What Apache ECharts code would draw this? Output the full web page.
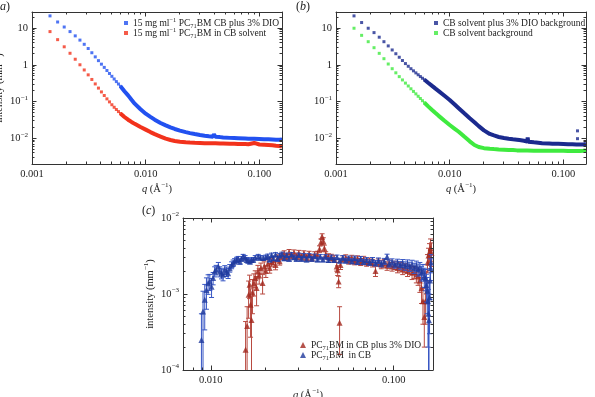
<!DOCTYPE html>
<html><head><meta charset="utf-8">
<script src="https://cdn.jsdelivr.net/npm/echarts@6/dist/echarts.min.js"></script>
<style>html,body{margin:0;padding:0;background:#fff}#c{width:595px;height:397px}</style>
</head><body><div id="c"></div>
<script>
// ---------- data: panels (a) and (b) ----------
const qSparse = [0.00144, 0.00168, 0.00192, 0.00216, 0.0024, 0.00264, 0.00288, 0.00312, 0.00336, 0.0036, 0.00384, 0.00408, 0.00432, 0.00456, 0.0048, 0.00504, 0.00528, 0.00552, 0.00576, 0.006];
const qDense = [0.0065, 0.007, 0.0075, 0.008, 0.009, 0.01, 0.011, 0.012, 0.0135, 0.015, 0.0165, 0.018, 0.02, 0.0225, 0.0245, 0.027, 0.03, 0.033, 0.036, 0.039, 0.0398, 0.0403, 0.041, 0.045, 0.048, 0.0485, 0.049, 0.055, 0.06, 0.065, 0.075, 0.08, 0.09, 0.092, 0.1, 0.11, 0.12, 0.13, 0.135, 0.14, 0.15, 0.158];

const aBlueSparse = [21.7, 14.8, 10.8, 8.1, 6.2, 4.75, 3.65, 2.8, 2.15, 1.66, 1.31, 1.05, 0.857, 0.705, 0.585, 0.49, 0.414, 0.352, 0.302, 0.261];
const aBlueDense = [0.192, 0.148, 0.112, 0.088, 0.062, 0.047, 0.0385, 0.0322, 0.0262, 0.0225, 0.0199, 0.018, 0.0163, 0.0148, 0.0139, 0.0131, 0.0123, 0.0118, 0.0114, 0.0111, 0.0128, 0.0122, 0.011, 0.0108, 0.0106, 0.0106, 0.0105, 0.0103, 0.0102, 0.0101, 0.0099, 0.0098, 0.0097, 0.0097, 0.0096, 0.0095, 0.0094, 0.0093, 0.0092, 0.0092, 0.0091, 0.0093];
const aRedSparse = [8.1, 4.89, 3.12, 2.08, 1.43, 1.01, 0.73, 0.537, 0.402, 0.304, 0.234, 0.184, 0.147, 0.119, 0.0985, 0.0824, 0.0703, 0.061, 0.0536, 0.0476];
const aRedDense = [0.0382, 0.0322, 0.028, 0.0248, 0.0203, 0.0173, 0.0148, 0.013, 0.0112, 0.0098, 0.009, 0.0085, 0.0081, 0.0078, 0.0077, 0.0076, 0.0075, 0.0074, 0.0074, 0.0073, 0.0073, 0.0073, 0.0073, 0.0072, 0.0072, 0.0072, 0.0072, 0.0071, 0.0071, 0.007, 0.007, 0.0069, 0.0075, 0.0069, 0.0068, 0.0067, 0.0066, 0.0065, 0.0064, 0.0063, 0.0062, 0.006];

const bNavySparse = [21.7, 14.3, 10.0, 7.6, 5.7, 4.3, 3.3, 2.56, 2.02, 1.62, 1.32, 1.09, 0.92, 0.79, 0.69, 0.607, 0.54, 0.482, 0.434, 0.394];
const bNavyDense = [0.322, 0.268, 0.226, 0.194, 0.145, 0.111, 0.085, 0.066, 0.0473, 0.0353, 0.0275, 0.0215, 0.0165, 0.0132, 0.012, 0.0109, 0.0102, 0.0097, 0.0094, 0.0092, 0.0091, 0.0091, 0.009, 0.0086, 0.0082, 0.0105, 0.0081, 0.0078, 0.0076, 0.0074, 0.0072, 0.0071, 0.0071, 0.007, 0.007, 0.0069, 0.0069, 0.0068, 0.0068, 0.0068, 0.0068, 0.007];
const bNavyOutQ = [0.133, 0.133];
const bNavyOutI = [0.016, 0.0098];
const bGreenSparse = [10, 6.4, 4.3, 2.95, 2.07, 1.48, 1.06, 0.79, 0.61, 0.48, 0.39, 0.32, 0.267, 0.224, 0.19, 0.163, 0.14, 0.122, 0.106, 0.093];
const bGreenDense = [0.0733, 0.059, 0.0488, 0.041, 0.0301, 0.0231, 0.0185, 0.0151, 0.011, 0.0083, 0.0066, 0.0058, 0.0054, 0.0052, 0.0051, 0.005, 0.0049, 0.0048, 0.0048, 0.0047, 0.0047, 0.0047, 0.0047, 0.0047, 0.0047, 0.0047, 0.0047, 0.0046, 0.0046, 0.0046, 0.0046, 0.0046, 0.0046, 0.0046, 0.0046, 0.0045, 0.0045, 0.0045, 0.0045, 0.0045, 0.0046, 0.0047];

// ---------- data: panel (c) ----------
const cBlueQ = [0.00889, 0.00907, 0.00927, 0.00947, 0.00967, 0.00988, 0.0101, 0.0103, 0.0105, 0.0107, 0.011, 0.0112, 0.01145, 0.01167, 0.01193, 0.0122, 0.01244, 0.0127, 0.013, 0.01325, 0.0135, 0.01383, 0.0141, 0.01443, 0.0147, 0.01503, 0.0154, 0.0157, 0.016, 0.01637, 0.0167, 0.01706, 0.0175, 0.01817, 0.0187, 0.01936, 0.02,
  0.0205, 0.021, 0.0215, 0.022, 0.0226, 0.0232, 0.0238, 0.0245, 0.0252, 0.026, 0.0268, 0.0276, 0.0285, 0.0294, 0.0303, 0.0313, 0.0323, 0.0334, 0.0345, 0.0357, 0.037, 0.0383, 0.0397, 0.041, 0.0425, 0.044, 0.0456, 0.0472, 0.049, 0.0508, 0.0527, 0.0547, 0.0568, 0.059, 0.0612, 0.0635, 0.066, 0.0685, 0.0711, 0.0738, 0.0766, 0.0795, 0.0825, 0.0856, 0.0888, 0.092, 0.0945, 0.098, 0.1015, 0.105, 0.1085, 0.112, 0.1155, 0.119, 0.1225, 0.126, 0.1295, 0.133, 0.136, 0.139, 0.142, 0.1445, 0.147, 0.149, 0.151, 0.1525, 0.154, 0.155, 0.156, 0.157, 0.158, 0.159, 0.16];
const cBlueI = [2.49e-4, 5.87e-4, 8.37e-4, 1.13e-3, 1.39e-3, 1.46e-3, 1.25e-3, 1.62e-3, 1.98e-3, 2.08e-3, 2.3e-3, 1.98e-3, 1.88e-3, 1.79e-3, 2.08e-3, 1.98e-3, 1.88e-3, 2.19e-3, 2.4e-3, 2.55e-3, 2.7e-3, 2.82e-3, 2.9e-3, 2.68e-3, 2.9e-3, 3.12e-3, 3.0e-3, 2.82e-3, 2.75e-3, 2.68e-3, 2.8e-3, 2.82e-3, 3.0e-3, 3.12e-3, 3.0e-3, 2.97e-3, 3.05e-3,
  3.15e-3, 2.85e-3, 3.25e-3, 2.95e-3, 3.3e-3, 2.9e-3, 3.2e-3, 3.35e-3, 2.95e-3, 3.25e-3, 2.9e-3, 3.3e-3, 3.05e-3, 2.9e-3, 3.25e-3, 2.9e-3, 3.2e-3, 2.85e-3, 3.2e-3, 2.9e-3, 3.15e-3, 2.85e-3, 3.1e-3, 2.85e-3, 3.1e-3, 2.8e-3, 3.05e-3, 2.8e-3, 3.05e-3, 2.75e-3, 3.0e-3, 2.75e-3, 2.95e-3, 2.7e-3, 2.95e-3, 2.65e-3, 2.9e-3, 2.65e-3, 2.8e-3, 2.6e-3, 2.8e-3, 2.55e-3, 2.75e-3, 2.5e-3, 2.7e-3, 3.1e-3, 2.5e-3, 2.65e-3, 2.45e-3, 2.6e-3, 2.4e-3, 2.55e-3, 2.35e-3, 2.5e-3, 2.3e-3, 2.45e-3, 2.2e-3, 2.35e-3, 2.1e-3, 2.2e-3, 1.9e-3, 2.0e-3, 1.7e-3, 1.6e-3, 1.3e-3, 1.1e-3, 0.8e-3, 0.55e-3, 0.45e-3, 0.9e-3, 1.5e-3, 2.2e-3, 2.6e-3];
const cBlueE = [3.0e-4, 5.0e-4, 5.0e-4, 5.0e-4, 4.0e-4, 3.5e-4, 3.5e-4, 3.0e-4, 3.0e-4, 3.0e-4, 3.0e-4, 3.0e-4, 3.0e-4, 3.0e-4, 2.8e-4, 2.8e-4, 2.8e-4, 2.5e-4, 2.5e-4, 2.5e-4, 2.2e-4, 2.2e-4, 2.2e-4, 2.2e-4, 2.0e-4, 2.0e-4, 2.0e-4, 2.0e-4, 2.0e-4, 2.0e-4, 2.0e-4, 2.0e-4, 2.0e-4, 2.0e-4, 2.0e-4, 2.0e-4, 2.0e-4,
  2.0e-4, 2.0e-4, 2.0e-4, 2.0e-4, 2.0e-4, 2.0e-4, 2.0e-4, 2.0e-4, 2.0e-4, 2.0e-4, 2.0e-4, 2.0e-4, 2.0e-4, 2.0e-4, 2.0e-4, 2.0e-4, 2.0e-4, 2.0e-4, 2.0e-4, 2.0e-4, 2.0e-4, 2.0e-4, 2.0e-4, 2.0e-4, 2.0e-4, 2.0e-4, 2.0e-4, 2.0e-4, 2.0e-4, 2.0e-4, 2.0e-4, 2.0e-4, 2.0e-4, 2.0e-4, 2.0e-4, 2.1e-4, 2.1e-4, 2.1e-4, 2.1e-4, 2.2e-4, 2.2e-4, 2.2e-4, 2.3e-4, 2.3e-4, 2.4e-4, 2.4e-4, 2.4e-4, 2.5e-4, 2.6e-4, 2.7e-4, 2.8e-4, 2.9e-4, 3.0e-4, 3.1e-4, 3.2e-4, 3.3e-4, 3.4e-4, 3.6e-4, 3.8e-4, 4.0e-4, 4.2e-4, 4.5e-4, 4.8e-4, 5.0e-4, 5.2e-4, 5.5e-4, 6.0e-4, 6.0e-4, 5.5e-4, 6.0e-4, 6.5e-4, 7.0e-4, 7.0e-4];

const cRedQ = [0.0155, 0.0158, 0.0161, 0.0163, 0.0165, 0.0167, 0.0169, 0.0172, 0.0175, 0.0178, 0.0181, 0.0184, 0.0188, 0.0192, 0.0196, 0.02,
  0.0205, 0.021, 0.0215, 0.022, 0.0226, 0.0232, 0.0238, 0.0245, 0.0252, 0.026, 0.0268, 0.0276, 0.0285, 0.0294, 0.0303, 0.0313, 0.0323, 0.0334, 0.0345, 0.0357, 0.037, 0.0383,
  0.0393, 0.04, 0.0406, 0.0412, 0.0418, 0.0425, 0.044, 0.0456, 0.0472, 0.0488, 0.0494, 0.05, 0.0506, 0.0512, 0.0527,
  0.0547, 0.0568, 0.059, 0.0612, 0.0635, 0.066, 0.0685, 0.0711, 0.0738, 0.0766, 0.0795, 0.0825, 0.0856, 0.0888, 0.092, 0.0945, 0.098, 0.1015, 0.105, 0.1085, 0.112, 0.1155, 0.119, 0.1225, 0.126, 0.1295, 0.133, 0.136, 0.139, 0.142, 0.1445, 0.147, 0.149, 0.151, 0.153, 0.155, 0.157, 0.159, 0.161];
const cRedI = [1.84e-4, 3.8e-4, 9.8e-4, 1.32e-3, 7.2e-4, 4.56e-4, 1.05e-3, 1.39e-3, 1.62e-3, 1.2e-3, 1.98e-3, 1.75e-3, 2.2e-3, 1.4e-3, 2.3e-3, 2.0e-3,
  2.5e-3, 2.2e-3, 2.6e-3, 2.75e-3, 2.4e-3, 2.95e-3, 2.7e-3, 3.15e-3, 3.4e-3, 3.1e-3, 3.55e-3, 3.2e-3, 3.5e-3, 3.15e-3, 3.45e-3, 3.1e-3, 3.4e-3, 3.05e-3, 3.35e-3, 3.0e-3, 3.3e-3, 3.35e-3,
  3.9e-3, 4.8e-3, 5.7e-3, 5.0e-3, 4.0e-3, 3.3e-3, 3.1e-3, 3.05e-3, 2.95e-3, 2.3e-3, 2.05e-3, 1.46e-3, 4.2e-4, 2.4e-3, 2.9e-3,
  3.0e-3, 2.75e-3, 2.95e-3, 2.7e-3, 2.9e-3, 2.65e-3, 2.85e-3, 2.6e-3, 2.7e-3, 2.55e-3, 2.0e-3, 2.6e-3, 2.45e-3, 2.55e-3, 2.35e-3, 2.5e-3, 2.3e-3, 2.4e-3, 2.2e-3, 2.3e-3, 2.1e-3, 2.2e-3, 2.0e-3, 2.1e-3, 1.9e-3, 1.95e-3, 1.8e-3, 1.7e-3, 1.5e-3, 1.2e-3, 0.8e-3, 0.5e-3, 0.8e-3, 1.5e-3, 2.6e-3, 3.2e-3, 3.6e-3, 4.0e-3, 3.5e-3];
const cRedE = [2.5e-4, 3.0e-4, 5.0e-4, 4.5e-4, 4.5e-4, 4.8e-4, 5.0e-4, 4.5e-4, 4.0e-4, 5.0e-4, 4.0e-4, 4.0e-4, 3.5e-4, 4.0e-4, 3.5e-4, 3.5e-4,
  3.2e-4, 3.2e-4, 3.2e-4, 3.2e-4, 3.2e-4, 3.2e-4, 3.0e-4, 3.0e-4, 3.0e-4, 3.0e-4, 3.0e-4, 3.0e-4, 3.0e-4, 3.0e-4, 3.0e-4, 3.0e-4, 3.0e-4, 3.0e-4, 3.0e-4, 3.0e-4, 3.0e-4, 3.0e-4,
  4.0e-4, 5.0e-4, 5.0e-4, 5.0e-4, 4.0e-4, 3.0e-4, 2.8e-4, 2.8e-4, 2.8e-4, 3.0e-4, 3.0e-4, 2.5e-4, 2.6e-4, 3.0e-4, 2.8e-4,
  2.8e-4, 2.8e-4, 2.8e-4, 2.8e-4, 2.8e-4, 2.8e-4, 2.8e-4, 2.8e-4, 2.8e-4, 2.8e-4, 3.0e-4, 3.0e-4, 3.0e-4, 3.0e-4, 3.0e-4, 3.0e-4, 3.0e-4, 3.0e-4, 3.0e-4, 3.0e-4, 3.0e-4, 3.0e-4, 3.0e-4, 3.0e-4, 3.5e-4, 3.5e-4, 4.0e-4, 4.0e-4, 4.5e-4, 4.5e-4, 4.0e-4, 3.0e-4, 4.0e-4, 5.0e-4, 7.0e-4, 8.0e-4, 1.0e-3, 1.3e-3, 1.2e-3];

// ---------- tick labels ----------
const abXTickVals = [0.001, 0.01, 0.1];
const abXTickText = ['0.001', '0.010', '0.100'];
const abYTickVals = [0.01, 0.1, 1, 10];
const abYTickText = ['10{s|\u22122}', '10{s|\u22121}', '1', '10'];
const cXTickVals = [0.01, 0.1];
const cXTickText = ['0.010', '0.100'];
const cYTickVals = [1e-4, 1e-3, 1e-2];
const cYTickText = ['10{s|\u22124}', '10{s|\u22123}', '10{s|\u22122}'];
const abMinorX = [0.002, 0.003, 0.004, 0.005, 0.006, 0.007, 0.008, 0.009, 0.02, 0.03, 0.04, 0.05, 0.06, 0.07, 0.08, 0.09];
const abMinorY = [0.003, 0.004, 0.005, 0.006, 0.007, 0.008, 0.009, 0.02, 0.03, 0.04, 0.05, 0.06, 0.07, 0.08, 0.09, 0.2, 0.3, 0.4, 0.5, 0.6, 0.7, 0.8, 0.9, 2, 3, 4, 5, 6, 7, 8, 9, 20];
const cMinorX = [0.008, 0.009, 0.02, 0.03, 0.04, 0.05, 0.06, 0.07, 0.08, 0.09];
const cMinorY = [2e-4, 3e-4, 4e-4, 5e-4, 6e-4, 7e-4, 8e-4, 9e-4, 2e-3, 3e-3, 4e-3, 5e-3, 6e-3, 7e-3, 8e-3, 9e-3];

const legendNames = {
  a1: '15 mg ml{s|\u22121} PC{d|71}BM CB plus 3% DIO',
  a2: '15 mg ml{s|\u22121} PC{d|71}BM in CB solvent',
  b1: 'CB solvent plus 3% DIO background',
  b2: 'CB solvent background',
  c1: 'PC{d|71}BM in CB plus 3% DIO',
  c2: 'PC{d|71}BM  in CB'
};

// ---------- helpers ----------
const FONT = 'Liberation Serif';
const TXT = '#222';
const AX = '#333';
const pairs = (xs, ys) => xs.map((x, i) => [x, ys[i]]);
const richBase = (fs) => ({
  s: { fontSize: fs * 0.68, verticalAlign: 'top', fontFamily: FONT, color: TXT },
  d: { fontSize: fs * 0.68, verticalAlign: 'bottom', fontFamily: FONT, color: TXT },
  i: { fontSize: fs, fontStyle: 'italic', fontFamily: FONT, color: TXT }
});
function fmt(v, vals, texts) {
  for (let i = 0; i < vals.length; i++) {
    if (Math.abs(Math.log10(v / vals[i])) < 1e-6) return texts[i];
  }
  return '';
}
function mkAxes(gi, range, vals, texts, isX, name, nameGap, showLabels) {
  const base = {
    type: 'log', logBase: 10, gridIndex: gi, min: range[0], max: range[1],
    axisLine: { show: true, onZero: false, lineStyle: { color: AX, width: 1 } },
    axisTick: { show: true, inside: true, length: 4.5, interval: 0, lineStyle: { color: AX, width: 1 } },
    splitLine: { show: false }, minorTick: { show: false }, minorSplitLine: { show: false }
  };
  const main = Object.assign({}, base, {
    position: isX ? 'bottom' : 'left',
    axisLabel: {
      show: showLabels, interval: 0, margin: isX ? 3 : 4, fontFamily: FONT, fontSize: 10.5, color: TXT,
      lineHeight: 14, rich: richBase(10.5), formatter: v => fmt(v, vals, texts)
    }
  });
  if (name) {
    Object.assign(main, {
      name: name, nameLocation: 'middle', nameGap: nameGap,
      nameTextStyle: { fontFamily: FONT, fontSize: 10.5, color: TXT, lineHeight: 14, rich: richBase(10.5) }
    });
  }
  const mirror = Object.assign({}, base, { position: isX ? 'top' : 'right', axisLabel: { show: false } });
  return [main, mirror];
}
function minorXRender(len) {
  return (params, api) => {
    const cs = params.coordSys;
    const x = Math.round(api.coord([api.value(0), api.value(1)])[0] - 0.5) + 0.5;
    const b = cs.y + cs.height, t = cs.y;
    const st = { stroke: AX, lineWidth: 1 };
    return { type: 'group', children: [
      { type: 'line', shape: { x1: x, y1: b, x2: x, y2: b - len }, style: st },
      { type: 'line', shape: { x1: x, y1: t, x2: x, y2: t + len }, style: st }
    ] };
  };
}
function minorYRender(len) {
  return (params, api) => {
    const cs = params.coordSys;
    const y = Math.round(api.coord([api.value(0), api.value(1)])[1] - 0.5) + 0.5;
    const l = cs.x, r = cs.x + cs.width;
    const st = { stroke: AX, lineWidth: 1 };
    return { type: 'group', children: [
      { type: 'line', shape: { x1: l, y1: y, x2: l + len, y2: y }, style: st },
      { type: 'line', shape: { x1: r, y1: y, x2: r - len, y2: y }, style: st }
    ] };
  };
}
function errRender(color) {
  return (params, api) => {
    const q = api.value(0), v = api.value(1), e = api.value(2);
    const hasLo = v - e > 0;
    const pHi = api.coord([q, v + e]);
    const pLo = api.coord([q, hasLo ? v - e : 1e-7]);
    const x = pHi[0], w = 2.5;
    const st = { stroke: color, lineWidth: 1 };
    const ch = [
      { type: 'line', shape: { x1: x, y1: pLo[1], x2: x, y2: pHi[1] }, style: st },
      { type: 'line', shape: { x1: x - w, y1: pHi[1], x2: x + w, y2: pHi[1] }, style: st }
    ];
    if (hasLo) ch.push({ type: 'line', shape: { x1: x - w, y1: pLo[1], x2: x + w, y2: pLo[1] }, style: st });
    return { type: 'group', children: ch };
  };
}

const abX = [0.001, 0.158], abY = [0.002, 27.7];
const cX = [0.00705, 0.164], cY = [1e-4, 1e-2];

const xAxis = [].concat(
  mkAxes(0, abX, abXTickVals, abXTickText, true, '{i|q} (\u00c5{s|\u22121})', 15, true),
  mkAxes(1, abX, abXTickVals, abXTickText, true, '{i|q} (\u00c5{s|\u22121})', 15, true),
  mkAxes(2, cX, cXTickVals, cXTickText, true, '{i|q} (\u00c5{s|\u22121})', 15, true)
);
const yAxis = [].concat(
  mkAxes(0, abY, abYTickVals, abYTickText, false, 'intensity (mm{s|\u22121})', 18, true),
  mkAxes(1, abY, abYTickVals, abYTickText, false, null, 0, true),
  mkAxes(2, cY, cYTickVals, cYTickText, false, 'intensity (mm{s|\u22121})', 17, true)
);

const COL = { a1: '#2251f0', a2: '#f2321c', b1: '#1b2a8e', b2: '#3fea3f', c1: '#a3281e', c2: '#1f3a9c', c1e: '#b84a40', c2e: '#3756c4' };

function sparseDense(name, xi, qs, ys, qd, yd, color) {
  return [
    { name: name, type: 'scatter', xAxisIndex: xi, yAxisIndex: xi, data: pairs(qs, ys),
      symbol: 'rect', symbolSize: 3, itemStyle: { color: color }, z: 3 },
    { name: name + 'd', type: 'line', xAxisIndex: xi, yAxisIndex: xi,
      data: [[qs[qs.length - 1], ys[ys.length - 1]]].concat(pairs(qd, yd)),
      showSymbol: false, symbol: 'none', lineStyle: { color: color, width: 4 }, itemStyle: { color: color }, z: 3 }
  ];
}
function minorSeries(xi, mx, my, refX, refY) {
  return [
    { type: 'custom', name: 'mx' + xi, xAxisIndex: xi, yAxisIndex: xi, silent: true, clip: false, z: 5,
      data: mx.map(v => [v, refY]), renderItem: minorXRender(2.5) },
    { type: 'custom', name: 'my' + xi, xAxisIndex: xi, yAxisIndex: xi, silent: true, clip: false, z: 5,
      data: my.map(v => [refX, v]), renderItem: minorYRender(2.5) }
  ];
}

const series = [].concat(
  sparseDense('a1', 0, qSparse, aBlueSparse, qDense, aBlueDense, COL.a1),
  sparseDense('a2', 0, qSparse, aRedSparse, qDense, aRedDense, COL.a2),
  sparseDense('b1', 2, qSparse, bNavySparse, qDense, bNavyDense, COL.b1),
  sparseDense('b2', 2, qSparse, bGreenSparse, qDense, bGreenDense, COL.b2),
  [{ name: 'b1o', type: 'scatter', xAxisIndex: 2, yAxisIndex: 2, data: pairs(bNavyOutQ, bNavyOutI),
     symbol: 'rect', symbolSize: 3, itemStyle: { color: COL.b1 } }],
  [
    { name: 'c1e', type: 'custom', xAxisIndex: 4, yAxisIndex: 4, clip: true, silent: true,
      data: cRedQ.map((q, i) => [q, cRedI[i], cRedE[i]]), encode: { x: 0, y: 1 }, renderItem: errRender(COL.c1e), z: 2 },
    { name: 'c1', type: 'scatter', xAxisIndex: 4, yAxisIndex: 4, clip: true, data: pairs(cRedQ, cRedI),
      symbol: 'triangle', symbolSize: 6, itemStyle: { color: COL.c1 }, z: 2 },
    { name: 'c2e', type: 'custom', xAxisIndex: 4, yAxisIndex: 4, clip: true, silent: true,
      data: cBlueQ.map((q, i) => [q, cBlueI[i], cBlueE[i]]), encode: { x: 0, y: 1 }, renderItem: errRender(COL.c2e), z: 3 },
    { name: 'c2', type: 'scatter', xAxisIndex: 4, yAxisIndex: 4, clip: true, data: pairs(cBlueQ, cBlueI),
      symbol: 'triangle', symbolSize: 6, itemStyle: { color: COL.c2 }, z: 3 }
  ],
  minorSeries(0, abMinorX, abMinorY, 0.01, 1),
  minorSeries(2, abMinorX, abMinorY, 0.01, 1),
  minorSeries(4, cMinorX, cMinorY, 0.05, 1e-3)
);

function mkLegend(names, left, top, icon, iw) {
  return {
    data: names, left: left, top: top, orient: 'vertical', icon: icon, itemWidth: iw, itemHeight: iw,
    itemGap: -2, selectedMode: false, padding: 0,
    formatter: n => legendNames[n],
    textStyle: { fontFamily: FONT, fontSize: 9.5, color: TXT, lineHeight: 12, rich: richBase(9.5) }
  };
}

const option = {
  animation: false,
  backgroundColor: '#fff',
  grid: [
    { left: 32, top: 12, width: 250, height: 152, outerBoundsMode: 'none', containLabel: false },
    { left: 336, top: 12, width: 250, height: 152, outerBoundsMode: 'none', containLabel: false },
    { left: 183, top: 218, width: 250, height: 152, outerBoundsMode: 'none', containLabel: false }
  ],
  xAxis: xAxis,
  yAxis: yAxis,
  legend: [
    mkLegend(['a1', 'a2'], 124, 17, 'rect', 4),
    mkLegend(['b1', 'b2'], 434, 17, 'rect', 4),
    mkLegend(['c1', 'c2'], 300, 339, 'triangle', 6)
  ],
  graphic: [
    { type: 'text', left: -4, top: 1, style: { text: '({i|a})', fontFamily: FONT, fontSize: 12, fill: TXT,
      rich: { i: { fontStyle: 'italic', fontFamily: FONT, fontSize: 12, fill: TXT } } } },
    { type: 'text', left: 296, top: 1, style: { text: '({i|b})', fontFamily: FONT, fontSize: 12, fill: TXT,
      rich: { i: { fontStyle: 'italic', fontFamily: FONT, fontSize: 12, fill: TXT } } } },
    { type: 'text', left: 142, top: 205, style: { text: '({i|c})', fontFamily: FONT, fontSize: 12, fill: TXT,
      rich: { i: { fontStyle: 'italic', fontFamily: FONT, fontSize: 12, fill: TXT } } } }
  ],
  series: series
};

const chart = echarts.init(document.getElementById('c'), null, { renderer: 'canvas' });
chart.setOption(option);
</script>
</body></html>
